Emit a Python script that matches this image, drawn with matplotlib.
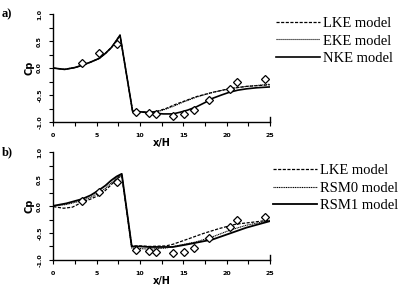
import matplotlib
matplotlib.use("Agg")
import matplotlib.pyplot as plt
from matplotlib.ticker import MultipleLocator, FormatStrFormatter

# experimental points (same in both panels)
exp_x = [3.3, 5.3, 7.4, 9.5, 11.1, 11.8, 13.8, 15.1, 16.2, 18.0, 20.4, 21.2, 24.4]
exp_cp = [0.10, 0.27, 0.44, -0.81, -0.84, -0.86, -0.88, -0.85, -0.77, -0.60, -0.39, -0.25, -0.20]

# panel a)
nke_x = [0, 1.3, 2.5, 3.3, 4.3, 5.3, 6.0, 6.7, 7.2, 7.7, 9.15, 10, 11.1, 12.7, 13.8, 14.6,
         15.5, 16.5, 17.5, 18.4, 19.4, 20.3, 21.3, 22.3, 23.5, 25]
nke_cp = [0.0, -0.025, 0.01, 0.05, 0.11, 0.18, 0.27, 0.38, 0.49, 0.61, -0.80, -0.81, -0.83,
          -0.85, -0.85, -0.82, -0.78, -0.72, -0.64, -0.56, -0.50, -0.45, -0.41, -0.385, -0.365, -0.35]
lke_a_x = [0, 1.3, 2.5, 3.3, 4.3, 5.3, 6.0, 6.7, 7.2, 7.7, 9.15, 10, 11.0, 12.0, 13.0, 14.0,
           15.0, 16.5, 18.4, 20.4, 22.3, 25]
lke_a_cp = [0.0, -0.025, 0.01, 0.05, 0.11, 0.18, 0.27, 0.38, 0.49, 0.61, -0.80, -0.81, -0.82,
            -0.80, -0.75, -0.68, -0.62, -0.53, -0.45, -0.38, -0.34, -0.31]
eke_x = [0, 1.3, 2.5, 3.3, 4.3, 5.3, 6.0, 6.7, 7.2, 7.7, 9.15, 10, 11.0, 12.0, 13.0, 14.0,
         15.0, 16.5, 18.4, 20.4, 22.3, 25]
eke_cp = [0.0, -0.025, 0.01, 0.05, 0.11, 0.18, 0.27, 0.38, 0.49, 0.61, -0.80, -0.81, -0.82,
          -0.81, -0.76, -0.70, -0.63, -0.54, -0.45, -0.38, -0.34, -0.30]

# panel b)
lke_b_x = [0, 1.2, 2.2, 3.3, 4.3, 5.3, 6.0, 6.7, 7.3, 7.9, 9.05, 10, 11.1, 13.0, 13.8,
           15.4, 17.3, 19.2, 21.1, 23.0, 25]
lke_b_cp = [-0.01, -0.04, -0.02, 0.07, 0.13, 0.205, 0.29, 0.40, 0.50, 0.57, -0.74, -0.74,
            -0.75, -0.74, -0.71, -0.62, -0.51, -0.415, -0.335, -0.30, -0.26]
rsm0_x = [0, 1.5, 3.3, 4.3, 5.3, 6.0, 6.7, 7.3, 7.9, 9.05, 10, 11.1, 13.0, 14.5, 16.5,
          18.4, 20.35, 22.3, 25]
rsm0_cp = [0.0, 0.03, 0.10, 0.16, 0.25, 0.33, 0.43, 0.52, 0.59, -0.78, -0.79, -0.80, -0.78,
           -0.73, -0.665, -0.57, -0.45, -0.355, -0.27]
rsm1_x = [0, 1.5, 3.3, 4.3, 5.3, 6.0, 6.7, 7.3, 7.9, 9.05, 10, 11.1, 13.8, 15.2, 16.5,
          18.4, 20.35, 22.3, 25]
rsm1_cp = [0.005, 0.05, 0.13, 0.20, 0.30, 0.38, 0.48, 0.55, 0.60, -0.75, -0.75, -0.76, -0.76,
           -0.72, -0.68, -0.62, -0.51, -0.40, -0.28]

fig = plt.figure(figsize=(4.04, 2.94), dpi=100)
ax_a = fig.add_axes([0.132, 0.585, 0.536, 0.367])
ax_b = fig.add_axes([0.132, 0.116, 0.536, 0.366])


def style_axes(ax):
    ax.set_xlim(0, 25)
    ax.set_ylim(-1.0, 1.0)
    ax.spines['top'].set_visible(False)
    ax.spines['right'].set_bounds(-1.0, -0.9)
    for s in ax.spines.values():
        s.set_linewidth(1.0)
    ax.xaxis.set_major_locator(MultipleLocator(5))
    ax.xaxis.set_minor_locator(MultipleLocator(2.5))
    ax.yaxis.set_major_locator(MultipleLocator(0.5))
    ax.yaxis.set_minor_locator(MultipleLocator(0.25))
    ax.yaxis.set_major_formatter(FormatStrFormatter('%.1f'))
    ax.tick_params(which='both', direction='out', length=3, width=0.8, right=False, top=False)
    ax.tick_params(axis='both', labelsize=4.5, pad=5)
    for lab in ax.get_xticklabels() + ax.get_yticklabels():
        lab.set_fontweight('bold')
    for lab in ax.get_yticklabels():
        lab.set_rotation(90)
        lab.set_va('center')
    ax.set_xlabel('x/H', fontsize=7, fontweight='bold', labelpad=0)
    ax.set_ylabel('Cp', fontsize=7, fontweight='bold', labelpad=2)
    ax.plot(exp_x, exp_cp, 'D', ms=4.5, mfc='white', mec='black', mew=0.9, zorder=5)


style_axes(ax_a)
l1, = ax_a.plot(lke_a_x, lke_a_cp, color='black', lw=0.9, ls=(0, (2.5, 1.2)))
l2, = ax_a.plot(eke_x, eke_cp, color='black', lw=0.8, ls=(0, (1, 0.8)))
l3, = ax_a.plot(nke_x, nke_cp, color='black', lw=1.2, ls='-')

style_axes(ax_b)
m1, = ax_b.plot(lke_b_x, lke_b_cp, color='black', lw=0.9, ls=(0, (2.5, 1.2)))
m2, = ax_b.plot(rsm0_x, rsm0_cp, color='black', lw=0.8, ls=(0, (1, 0.6)))
m3, = ax_b.plot(rsm1_x, rsm1_cp, color='black', lw=1.3, ls='-')

leg_kw = dict(frameon=False, loc='center left', handlelength=3.0, handletextpad=0.2,
              labelspacing=0.3, borderpad=0, borderaxespad=0,
              prop={'family': 'Liberation Serif', 'size': 10.5})
ax_a.legend([l1, l2, l3], ['LKE model', 'EKE model', 'NKE model'],
            bbox_to_anchor=(276 / 404, 1 - 41 / 294), bbox_transform=fig.transFigure, **leg_kw)
ax_b.legend([m1, m2, m3], ['LKE model', 'RSM0 model', 'RSM1 model'],
            bbox_to_anchor=(273 / 404, 1 - 188 / 294), bbox_transform=fig.transFigure, **leg_kw)

fig.text(0.005, 1 - 14 / 294, 'a)', fontsize=9, fontweight='bold', family='Liberation Serif',
         va='center')
fig.text(0.005, 1 - 152 / 294, 'b)', fontsize=9, fontweight='bold', family='Liberation Serif',
         va='center')

fig.savefig('out.png', dpi=100)
